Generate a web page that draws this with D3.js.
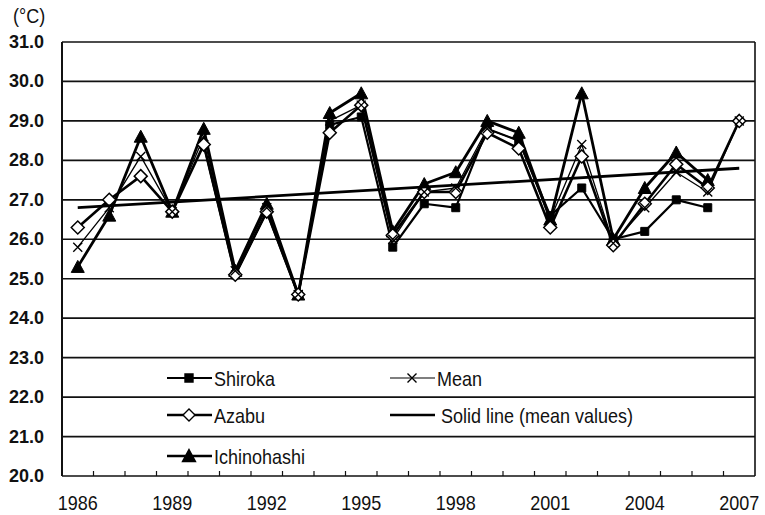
<!DOCTYPE html>
<html>
<head>
<meta charset="utf-8">
<script src="https://cdn.jsdelivr.net/npm/d3@7"></script>
<style>
  body { margin: 0; background: #fff; }
  svg { display: block; }
  .ylab { font-family: "Liberation Sans", Arial, sans-serif; font-weight: bold; font-size: 18px; fill: #111; }
  .xlab, .leg { font-family: "Liberation Sans", Arial, sans-serif; font-size: 20px; fill: #111; }
</style>
</head>
<body>
<div id="chart"></div>
<script>
var years = d3.range(1986, 2008);
var shiroka = [null, null, null, null, 28.4, 25.1, 26.7, 24.6, 28.9, 29.1, 25.8, 26.9, 26.8, 28.8, 28.5, 26.6, 27.3, 26.0, 26.2, 27.0, 26.8, null];
var azabu = [26.3, 27.0, 27.6, 26.7, 28.4, 25.1, 26.7, 24.6, 28.7, 29.4, 26.1, 27.2, 27.2, 28.7, 28.3, 26.3, 28.1, 25.85, 26.9, 27.9, 27.3, 29.0];
var ichinohashi = [25.3, 26.6, 28.6, 26.7, 28.8, 25.2, 26.9, 24.6, 29.2, 29.7, 26.2, 27.4, 27.7, 29.0, 28.7, 26.5, 29.7, 26.0, 27.3, 28.2, 27.5, null];
var mean = [25.8, 26.8, 28.1, 26.7, 28.6, 25.2, 26.8, 24.6, 29.0, 29.4, 26.0, 27.2, 27.3, 28.8, 28.5, 26.5, 28.4, 25.9, 26.8, 27.7, 27.2, 29.0];
var trendYears = [1986, 2007];
var trendValues = [26.8, 27.8];
var yTicks = d3.range(20, 32);
var xLabelYears = [1986, 1989, 1992, 1995, 1998, 2001, 2004, 2007];

var width = 765, height = 515;
var plotLeft = 62, plotRight = 755, plotTop = 42, plotBottom = 476;
var narrow = 0.9; // condensed look of the original labels

var svg = d3.select("#chart").append("svg").attr("width", width).attr("height", height);

var x = d3.scaleBand().domain(years).range([plotLeft, plotRight]).padding(0);
var y = d3.scaleLinear().domain([20, 31]).range([plotBottom, plotTop]);
var cx = function (yr) { return x(yr) + x.bandwidth() / 2; };

// horizontal grid lines
svg.append("g").selectAll("line").data(yTicks).enter().append("line")
  .attr("x1", plotLeft).attr("x2", plotRight)
  .attr("y1", function (d) { return y(d); }).attr("y2", function (d) { return y(d); })
  .attr("stroke", "#111").attr("stroke-width", 1.7);

// frame
svg.append("line").attr("x1", plotLeft).attr("x2", plotLeft).attr("y1", plotTop).attr("y2", plotBottom).attr("stroke", "#111").attr("stroke-width", 2);
svg.append("line").attr("x1", plotRight).attr("x2", plotRight).attr("y1", plotTop).attr("y2", plotBottom).attr("stroke", "#111").attr("stroke-width", 1.6);

// x axis ticks between categories, pointing up
var bounds = years.map(function (d) { return x(d); });
svg.append("g").selectAll("line").data(bounds.slice(1)).enter().append("line")
  .attr("x1", function (d) { return d; }).attr("x2", function (d) { return d; })
  .attr("y1", plotBottom).attr("y2", plotBottom - 5)
  .attr("stroke", "#111").attr("stroke-width", 1.2);

// y labels
svg.append("g").selectAll("text").data(yTicks).enter().append("text")
  .attr("class", "ylab")
  .attr("x", 44).attr("y", function (d) { return y(d) + 6; })
  .attr("text-anchor", "end")
  .text(function (d) { return d.toFixed(1); });
svg.append("text").attr("class", "leg")
  .attr("transform", "translate(13,23) scale(" + narrow + ",1)").text("(\u00B0C)");

// x labels
svg.append("g").selectAll("text").data(xLabelYears).enter().append("text")
  .attr("class", "xlab")
  .attr("transform", function (d) { return "translate(" + cx(d) + ",510) scale(" + narrow + ",1)"; })
  .attr("text-anchor", "middle")
  .text(function (d) { return d; });

// marker shapes
function squarePath(s) { return "M" + (-s) + "," + (-s) + "h" + 2 * s + "v" + 2 * s + "h" + (-2 * s) + "Z"; }
function diamondPath(s) { return "M0," + (-s) + "L" + s + ",0L0," + s + "L" + (-s) + ",0Z"; }
function trianglePath(s) { return "M0," + (-s) + "L" + s + "," + (s * 0.85) + "L" + (-s) + "," + (s * 0.85) + "Z"; }
function crossPath(s) { return "M" + (-s) + "," + (-s) + "L" + s + "," + s + "M" + (-s) + "," + s + "L" + s + "," + (-s); }

var series = [
  { name: "Ichinohashi", values: ichinohashi, width: 2.8, path: trianglePath(6.5), fill: "#000", mw: 1 },
  { name: "Shiroka", values: shiroka, width: 2.2, path: squarePath(4), fill: "#000", mw: 1 },
  { name: "Azabu", values: azabu, width: 2.6, path: diamondPath(6.5), fill: "#fff", mw: 1.5 },
  { name: "Mean", values: mean, width: 1.3, path: crossPath(4.5), fill: "none", mw: 1.4 }
];

var line = d3.line()
  .defined(function (d) { return d.v !== null; })
  .x(function (d) { return cx(d.yr); })
  .y(function (d) { return y(d.v); });

series.forEach(function (s) {
  var pts = years.map(function (yr, i) { return { yr: yr, v: s.values[i] }; });
  svg.append("path").datum(pts).attr("d", line)
    .attr("fill", "none").attr("stroke", "#000").attr("stroke-width", s.width)
    .attr("stroke-linejoin", "round");
});
series.forEach(function (s) {
  var pts = years.map(function (yr, i) { return { yr: yr, v: s.values[i] }; })
    .filter(function (d) { return d.v !== null; });
  svg.append("g").selectAll("path").data(pts).enter().append("path")
    .attr("d", s.path)
    .attr("transform", function (d) { return "translate(" + cx(d.yr) + "," + y(d.v) + ")"; })
    .attr("fill", s.fill).attr("stroke", "#000").attr("stroke-width", s.mw);
});

// trend line of mean values
svg.append("line")
  .attr("x1", cx(trendYears[0])).attr("x2", cx(trendYears[1]))
  .attr("y1", y(trendValues[0])).attr("y2", y(trendValues[1]))
  .attr("stroke", "#000").attr("stroke-width", 2.8);

// legend
var legend = [
  { label: "Shiroka", lx: 167, ly: 378, path: squarePath(4), fill: "#000", w: 2 },
  { label: "Mean", lx: 390, ly: 378, path: crossPath(4.5), fill: "none", w: 1.2 },
  { label: "Azabu", lx: 167, ly: 415, path: diamondPath(6), fill: "#fff", w: 2.4 },
  { label: "Solid line (mean values)", lx: 390, ly: 415, path: null, fill: "none", w: 2.4 },
  { label: "Ichinohashi", lx: 167, ly: 456, path: trianglePath(6.5), fill: "#000", w: 2.6 }
];
legend.forEach(function (l) {
  var g = svg.append("g");
  g.append("line").attr("x1", l.lx).attr("x2", l.lx + 45).attr("y1", l.ly).attr("y2", l.ly)
    .attr("stroke", "#000").attr("stroke-width", l.w);
  if (l.path) {
    g.append("path").attr("d", l.path).attr("transform", "translate(" + (l.lx + 22) + "," + l.ly + ")")
      .attr("fill", l.fill).attr("stroke", "#000").attr("stroke-width", 1.4);
  }
  g.append("text").attr("class", "leg")
    .attr("transform", "translate(" + (l.lx + (l.path ? 47 : 51)) + "," + (l.ly + 8) + ") scale(" + narrow + ",1)")
    .text(l.label);
});
</script>
</body>
</html>
